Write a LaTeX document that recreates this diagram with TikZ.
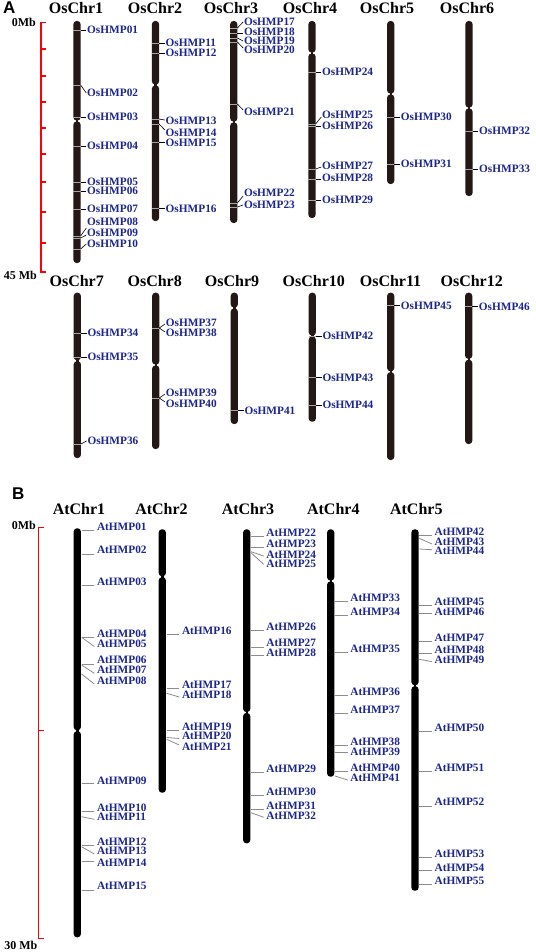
\documentclass[tikz,border=0pt]{standalone}
\usepackage{fontspec}
\setmainfont{Liberation Serif}
\newfontfamily\hvfont{Liberation Sans}
\definecolor{chrA}{RGB}{35,24,21}
\definecolor{labblue}{RGB}{28,38,140}
\definecolor{mkgray}{RGB}{140,140,140}
\newcommand\chrbar[5]{%
  \fill[#1,rounded corners=3.2pt] ({#2-3.6},#3) rectangle ({#2+3.6},{#4-0.45});
  \fill[#1,rounded corners=3.2pt] ({#2-3.6},{#4+0.45}) rectangle ({#2+3.6},#5);
  \fill[#1] ({#2-1.2},{#4-1}) rectangle ({#2+1.2},{#4+1});}
\newcommand\mkrA[5]{%
  \draw[band] ({#1-3.6},#2) -- ({#1+3.6},#2);
  \coordinate (s#5) at ({#1+3.6},#2);
  \coordinate (e#5) at ({#1+9.3},#3);
  \node[labA] (#5) at ({#1+10},#4) {#5};
  \draw[mkA] (s#5) -- (e#5);}
\newcommand\mkrB[5]{%
  \coordinate (s#5) at ({#1+4.3},#2);
  \coordinate (e#5) at ({#1+17},#3);
  \node[labA] (#5) at ({#1+19.5},#4) {#5};
  \draw[mkB] (s#5) -- (e#5);}
\begin{document}
\begin{tikzpicture}[x=1pt,y=-1pt,
  labA/.style={anchor=west,inner sep=0,font=\bfseries\fontsize{11.3}{12}\selectfont,text=labblue},
  ttl/.style={anchor=base,inner sep=0,font=\bfseries\fontsize{16}{18}\selectfont},
  scl/.style={anchor=east,inner sep=0,font=\bfseries\fontsize{12}{14}\selectfont},
  pnl/.style={anchor=north west,inner sep=0,font=\hvfont\bfseries\fontsize{17}{18}\selectfont},
  mkA/.style={draw=black,line width=0.6pt},
  mkB/.style={draw=mkgray,line width=0.8pt},
  band/.style={draw=gray!70,line width=0.5pt},
  redbar/.style={draw=red,line width=1.3pt},
]
\useasboundingbox[fill=white] (0,0) rectangle (535,952);

% ---------------- Panel A ----------------
\node[pnl] (pA) at (3,2) {A};
\node[scl] (s0A) at (36,22) {0Mb};
\node[scl] (s45A) at (37,275) {45 Mb};
\draw[redbar] (45.5,22.5) -- (41,22.5) -- (41,272) -- (45.5,272);
\foreach \y in {49,76,102,128,154,182,212,243} \draw[redbar] (41,\y) -- (45.5,\y);

% titles row 1
\node[ttl] (tA1) at (76,14) {OsChr1};
\node[ttl] (tA2) at (155,14) {OsChr2};
\node[ttl] (tA3) at (231,14) {OsChr3};
\node[ttl] (tA4) at (310,14) {OsChr4};
\node[ttl] (tA5) at (387,14) {OsChr5};
\node[ttl] (tA6) at (467,14) {OsChr6};

\chrbar{chrA}{77}{21}{121}{263}
\chrbar{chrA}{155.5}{21}{85}{221}
\chrbar{chrA}{233.8}{21}{122}{223}
\chrbar{chrA}{312}{21}{53}{218}
\chrbar{chrA}{390.7}{21}{94}{184}
\chrbar{chrA}{469}{21}{108}{196}

\foreach \a/\b/\c/\n in {30/30/30/OsHMP01,85/93/93/OsHMP02,117/117/117/OsHMP03,146/146/146/OsHMP04,182/182/182/OsHMP05,191/191/191/OsHMP06,209/209/209/OsHMP07,236/228/222/OsHMP08,238/235/233/OsHMP09,249/244/244/OsHMP10}
  {\mkrA{77}{\a}{\b}{\c}{\n}}
\foreach \a/\b/\c/\n in {43/43/43/OsHMP11,53/53/53/OsHMP12,119/120/121/OsHMP13,124/130/133/OsHMP14,142/142/143/OsHMP15,208/208/209/OsHMP16}
  {\mkrA{155.5}{\a}{\b}{\c}{\n}}
\foreach \a/\b/\c/\n in {28/22/22/OsHMP17,33/33/32/OsHMP18,38/41/41/OsHMP19,42/48/50/OsHMP20,104/110/112/OsHMP21,203/196/193/OsHMP22,207/205/205/OsHMP23}
  {\mkrA{233.8}{\a}{\b}{\c}{\n}}
\foreach \a/\b/\c/\n in {72/72/72/OsHMP24,124/117/115/OsHMP25,126/126/126/OsHMP26,169/167/166/OsHMP27,179/179/178/OsHMP28,200/200/200/OsHMP29}
  {\mkrA{312}{\a}{\b}{\c}{\n}}
\foreach \a/\b/\c/\n in {117/117/117/OsHMP30,164/164/164/OsHMP31}
  {\mkrA{390.7}{\a}{\b}{\c}{\n}}
\foreach \a/\b/\c/\n in {131/131/131/OsHMP32,169/169/169/OsHMP33}
  {\mkrA{469}{\a}{\b}{\c}{\n}}

% titles row 2
\node[ttl] (tA7) at (76.7,286.7) {OsChr7};
\node[ttl] (tA8) at (154.7,286.7) {OsChr8};
\node[ttl] (tA9) at (232,286.7) {OsChr9};
\node[ttl] (tA10) at (313.8,286.7) {OsChr10};
\node[ttl] (tA11) at (390.5,286.7) {OsChr11};
\node[ttl] (tA12) at (471.7,286.7) {OsChr12};

\chrbar{chrA}{77.3}{292.7}{360.7}{458}
\chrbar{chrA}{155.7}{292.7}{365}{449}
\chrbar{chrA}{234.3}{292.7}{308}{424}
\chrbar{chrA}{312.3}{292.7}{336}{421.7}
\chrbar{chrA}{390.7}{292.7}{371.7}{460}
\chrbar{chrA}{468.7}{292.7}{359.3}{444}

\foreach \a/\b/\c/\n in {333/333/333/OsHMP34,357/357/357/OsHMP35,444/441/440.7/OsHMP36}
  {\mkrA{77.3}{\a}{\b}{\c}{\n}}
\foreach \a/\b/\c/\n in {328/324/323/OsHMP37,328/332/333/OsHMP38,398/394/393/OsHMP39,398/402/404/OsHMP40}
  {\mkrA{155.7}{\a}{\b}{\c}{\n}}
\mkrA{234.3}{410.7}{410.7}{410.7}{OsHMP41}
\foreach \a/\b/\c/\n in {336/336/336/OsHMP42,377.7/377.7/377.7/OsHMP43,405/405/405/OsHMP44}
  {\mkrA{312.3}{\a}{\b}{\c}{\n}}
\mkrA{390.7}{305.7}{305.7}{305.7}{OsHMP45}
\mkrA{468.7}{306.7}{306.7}{306.7}{OsHMP46}

% ---------------- Panel B ----------------
\node[pnl] (pB) at (12,487.7) {B};
\node[scl] (s0B) at (36,525) {0Mb};
\node[scl] (s30B) at (37.5,945) {30 Mb};
\draw[redbar] (43.5,527.3) -- (38.7,527.3) -- (38.7,938.3) -- (43.5,938.3);
\draw[redbar] (38.7,730.7) -- (43.5,730.7);

\node[ttl] (tB1) at (79,514.3) {AtChr1};
\node[ttl] (tB2) at (161.5,514.3) {AtChr2};
\node[ttl] (tB3) at (248,514.3) {AtChr3};
\node[ttl] (tB4) at (333.3,514.3) {AtChr4};
\node[ttl] (tB5) at (416.3,514.3) {AtChr5};

\chrbar{black}{77.3}{528.3}{730.7}{937.3}
\chrbar{black}{162.3}{529.3}{576.7}{792.7}
\chrbar{black}{246.7}{529.3}{712.5}{843.3}
\chrbar{black}{330.7}{529.3}{581}{776.7}
\chrbar{black}{415}{529.3}{685.7}{890.7}

\foreach \a/\b/\c/\n in {530/530/526.7/AtHMP01,554/554/550/AtHMP02,585/585/581.7/AtHMP03,637.3/637.3/633.3/AtHMP04,637.3/646.5/643.3/AtHMP05,664.3/664.3/660/AtHMP06,665/673.3/670/AtHMP07,674/684/681/AtHMP08,783.3/783.3/780.7/AtHMP09,811/811/807.7/AtHMP10,816.7/819.3/817.3/AtHMP11,845/845/841.7/AtHMP12,846.7/854/851/AtHMP13,861/861/862.7/AtHMP14,890/890/886/AtHMP15}
  {\mkrB{77.3}{\a}{\b}{\c}{\n}}
\foreach \a/\b/\c/\n in {634.3/634.3/631/AtHMP16,688.3/688.3/685/AtHMP17,693.3/697/695/AtHMP18,730/730/726.7/AtHMP19,737.5/738.5/736/AtHMP20,739.3/745/747.3/AtHMP21}
  {\mkrB{162.3}{\a}{\b}{\c}{\n}}
\foreach \a/\b/\c/\n in {536.7/536.7/533.3/AtHMP22,547.3/547.3/544/AtHMP23,551.7/556/555/AtHMP24,552.7/564.3/564.3/AtHMP25,630/630/626.7/AtHMP26,647.3/647.3/643.3/AtHMP27,655.7/655.7/652.3/AtHMP28,772.7/772.7/769.3/AtHMP29,795.7/795.7/791.7/AtHMP30,809.3/809.3/806/AtHMP31,812.7/817.3/816/AtHMP32}
  {\mkrB{246.7}{\a}{\b}{\c}{\n}}
\foreach \a/\b/\c/\n in {601.7/601.7/598.3/AtHMP33,615/615/611.7/AtHMP34,652.7/652.7/649.3/AtHMP35,695.3/695.3/692/AtHMP36,713.3/713.3/710/AtHMP37,745/745/741.7/AtHMP38,752.7/752.7/752.3/AtHMP39,771/771/767.7/AtHMP40,776/780/777.7/AtHMP41}
  {\mkrB{330.7}{\a}{\b}{\c}{\n}}
\foreach \a/\b/\c/\n in {535.7/535.7/532.3/AtHMP42,538.3/544/541.7/AtHMP43,549/549.7/551/AtHMP44,605.3/605.3/602/AtHMP45,613.3/613.3/611.7/AtHMP46,641/641/637.7/AtHMP47,653.3/653.3/649.3/AtHMP48,659.3/661.7/660/AtHMP49,731/731/727.7/AtHMP50,771.7/771.7/767.7/AtHMP51,806/806/802/AtHMP52,857.7/857.7/854.3/AtHMP53,870.7/870.7/867.7/AtHMP54,884.3/884.3/881/AtHMP55}
  {\mkrB{415}{\a}{\b}{\c}{\n}}
\end{tikzpicture}
\end{document}
